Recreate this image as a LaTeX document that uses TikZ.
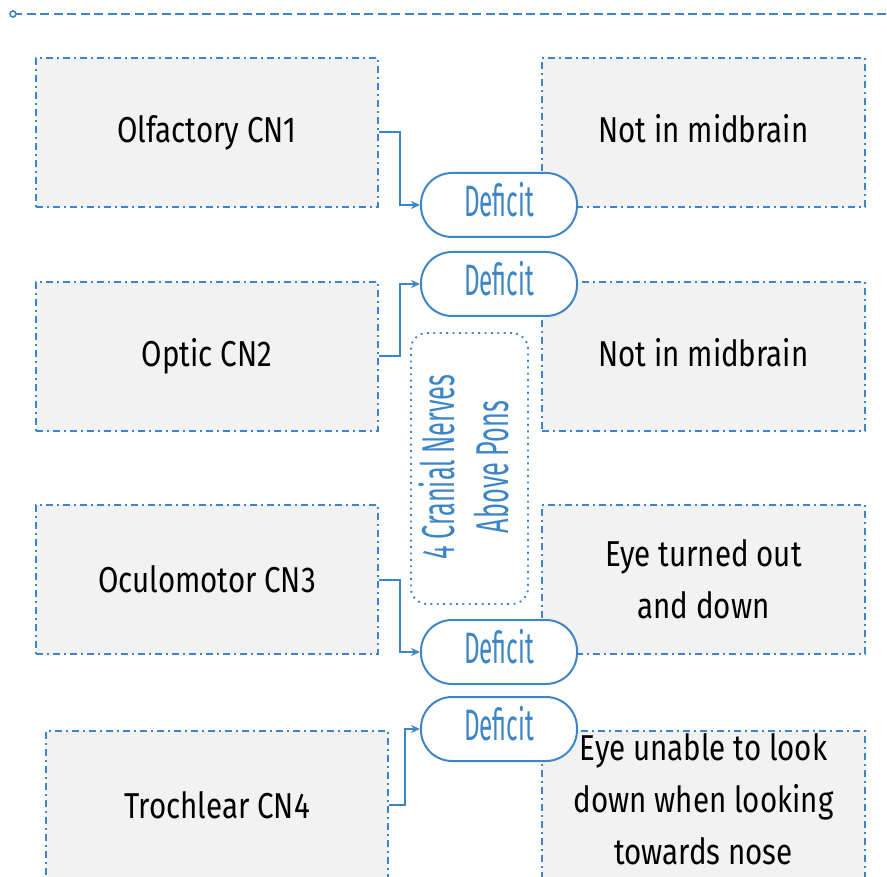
\documentclass[tikz,border=0pt]{standalone}
\usepackage{fontspec}
\setmainfont{Fira Sans}[FakeStretch=0.82]
\newfontfamily\condfont{Fira Sans}[FakeStretch=0.55]
\usetikzlibrary{arrows.meta}
\definecolor{cblue}{RGB}{61,133,198}
\definecolor{cgray}{RGB}{242,242,242}
\tikzset{
  box/.style={draw=cblue, fill=cgray, line width=1.8pt,
    dash pattern=on 7pt off 4pt on 2pt off 4pt,
    minimum height=149pt, inner sep=0pt, align=center,
    font=\fontsize{36}{52}\selectfont, text=black},
  lbox/.style={box, minimum width=342pt},
  rbox/.style={box, minimum width=323pt},
  pill/.style={draw=cblue, fill=white, line width=2pt, rounded corners=31pt,
    minimum width=156pt, minimum height=64pt, inner sep=0pt,
    text height=30pt, text depth=7pt,
    font=\condfont\fontsize{44}{46}\selectfont, text=cblue},
  conn/.style={draw=cblue, line width=2pt, -{Stealth[length=9pt,width=8pt]}},
  note/.style={draw=cblue, line width=1.9pt, dash pattern=on 1.9pt off 4.5pt, rounded corners=16pt,
    minimum width=117pt, minimum height=271pt, inner sep=0pt},
}
\begin{document}
\begin{tikzpicture}[x=1pt,y=-1pt]
\useasboundingbox (0,0) rectangle (887,877);
% top dashed line
\coordinate (ts) at (13,14);
\coordinate (te) at (887,14);
\draw[cblue, line width=1.8pt, dash pattern=on 9pt off 4.5pt] (ts) -- (te);
\draw[cblue, line width=1.6pt, fill=white] (ts) circle (3pt);
% right boxes
\node[rbox] (R1) at (703.5,132.5) {Not in midbrain\vphantom{y}};
\node[rbox] (R2) at (703.5,356.5) {Not in midbrain\vphantom{y}};
\node[rbox] (R3) at (703.5,579.5) {Eye turned out\\and down};
\node[rbox, minimum height=148pt] (R4) at (703.5,805) {};
\node[font=\fontsize{36}{52}\selectfont, align=center, inner sep=0pt] (R4t) at (703.5,799) {Eye unable to look\\down when looking\\towards nose};
% note
\node[note] (N) at (469.5,468.5) {};
\node[rotate=90, align=center, text=cblue, inner sep=0pt,
  font=\condfont\fontsize{46}{54}\selectfont] (Nt) at (464,467) {4 Cranial Nerves\\Above Pons};
% left boxes
\node[lbox] (L1) at (207,132.5) {Olfactory CN1\vphantom{y}};
\node[lbox] (L2) at (207,356.5) {Optic CN2};
\node[lbox] (L3) at (207,579.5) {Oculomotor CN3};
\node[lbox, minimum height=148pt] (L4) at (217,805) {Trochlear CN4};
% pills
\node[pill] (D1) at (499,205) {Deficit};
\node[pill] (D2) at (499,284) {Deficit};
\node[pill] (D3) at (499,652) {Deficit};
\node[pill] (D4) at (499,729) {Deficit};
% connectors
\draw[conn] (L1.east) -- ++(21,0) |- (D1.west);
\draw[conn] (L2.east) -- ++(21,0) |- (D2.west);
\draw[conn] (L3.east) -- ++(21,0) |- (D3.west);
\draw[conn] (L4.east) -- ++(16,0) |- (D4.west);
\end{tikzpicture}
\end{document}
